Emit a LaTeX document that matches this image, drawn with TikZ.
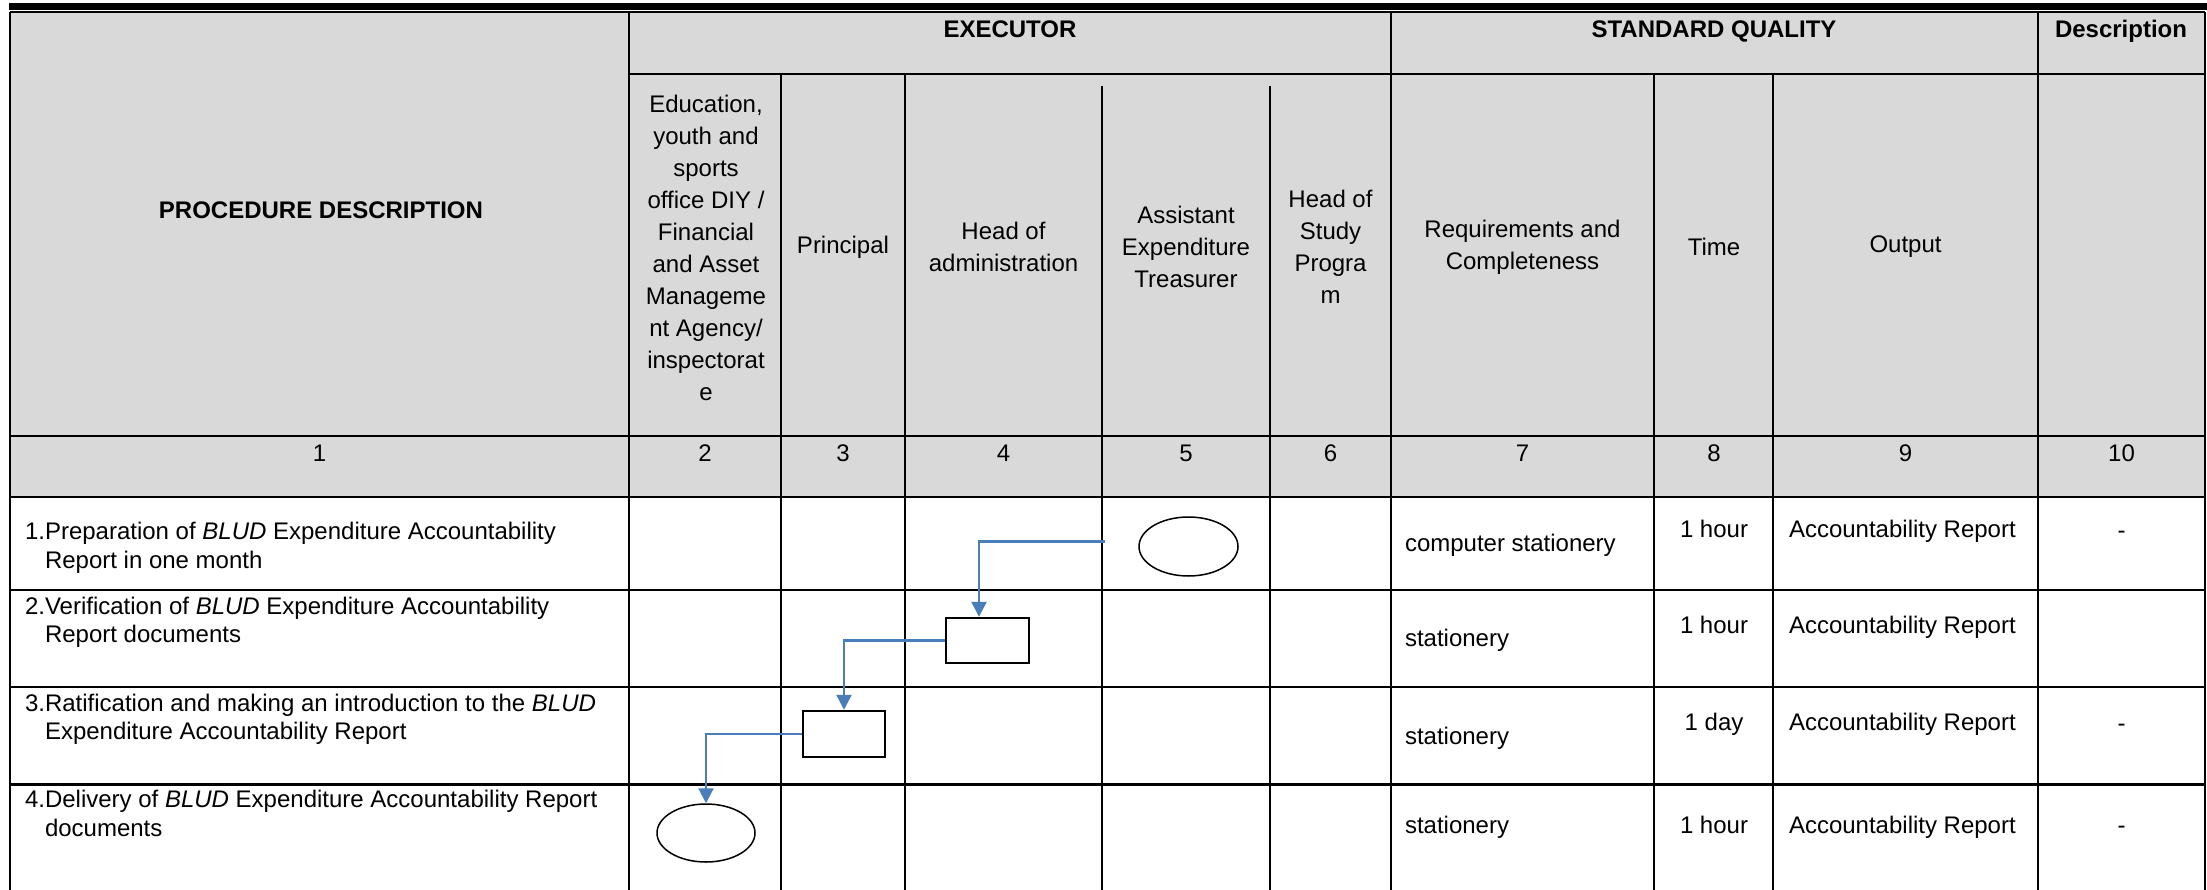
\documentclass[tikz,border=0pt]{standalone}
\usepackage{fontspec}
\setmainfont{Liberation Sans}
\usetikzlibrary{arrows.meta,shapes.geometric}
\definecolor{hdrgray}{RGB}{217,217,217}
\definecolor{flowblue}{RGB}{74,126,187}
\begin{document}
\begin{tikzpicture}[x=1pt,y=-1pt,
  gridline/.style={line width=1.4pt,black},
  thickline/.style={line width=3pt,black},
  txt/.style={font=\fontsize{24}{29}\selectfont,inner sep=0pt,outer sep=0pt},
  hdr/.style={font=\fontsize{24}{32}\selectfont,inner sep=0pt,align=center},
  bold/.style={font=\fontsize{24}{29}\selectfont\bfseries,inner sep=0pt},
  procbox/.style={draw,line width=2.4pt,rectangle,minimum width=83pt,minimum height=45pt,inner sep=0pt},
  termoval/.style={draw,line width=1.5pt,ellipse,minimum width=98pt,minimum height=58pt,inner sep=0pt},
  flowline/.style={draw=flowblue,line width=2.2pt,-{Triangle[width=15pt,length=15pt]}}]
\useasboundingbox (0,0) rectangle (2207,890);
% background and bars
\fill[hdrgray] (10,12.5) rectangle (2205,497);
\fill[black] (9,3) rectangle (2207,10);
\draw[line width=2pt] (10,12.5) -- (2205,12.5);
% horizontal grid lines
\draw[gridline] (629,74) -- (2205,74);
\draw[gridline] (10,436) -- (2205,436);
\draw[gridline] (10,497) -- (2205,497);
\draw[gridline] (10,590) -- (2205,590);
\draw[gridline] (10,687) -- (2205,687);
\draw[thickline] (10,784) -- (2205,784);
% vertical grid lines
\draw[gridline] (10,12.5) -- (10,890);
\draw[gridline] (2205,12.5) -- (2205,890);
\draw[gridline] (629,12.5) -- (629,890);
\draw[gridline] (781,74) -- (781,890);
\draw[gridline] (905,74) -- (905,890);
\draw[gridline] (1102,86) -- (1102,890);
\draw[gridline] (1270,86) -- (1270,890);
\draw[gridline] (1391,12.5) -- (1391,890);
\draw[gridline] (1654,74) -- (1654,890);
\draw[gridline] (1773,74) -- (1773,890);
\draw[gridline] (2038,12.5) -- (2038,890);
% header texts
\node[bold] (hproc) at (321,210) {PROCEDURE DESCRIPTION};
\node[bold,anchor=base] (hexec) at (1010,38) {EXECUTOR};
\node[bold,anchor=base] (hstd) at (1714,38) {STANDARD QUALITY};
\node[bold,anchor=base] (hdesc) at (2121,38) {Description};
\node[hdr] (h2) at (706,248) {Education,\\youth and\\sports\\office DIY /\\Financial\\and Asset\\Manageme\\nt Agency/\\inspectorat\\e};
\node[hdr] (h3) at (843,247) {Principal};
\node[hdr] (h4) at (1003.5,247) {Head of\\administration};
\node[hdr] (h5) at (1186,247) {Assistant\\Expenditure\\Treasurer};
\node[hdr] (h6) at (1330.5,247) {Head of\\Study\\Progra\\m};
\node[hdr] (h7) at (1522.5,247) {Requirements and\\Completeness};
\node[hdr] (h8) at (1714,247) {Time};
\node[hdr] (h9) at (1905.5,247) {Output};
% number row
\foreach \nm/\xx in {1/319.5,2/705,3/843,4/1003.5,5/1186,6/1330.5,7/1522.5,8/1714,9/1905.5,10/2121.5}
  \node[txt,anchor=base] (n\nm) at (\xx,461) {\nm};
% row 1
\node[txt,anchor=base west] (r1a) at (25,539.5) {1.Preparation of \textit{BLUD} Expenditure Accountability};
\node[txt,anchor=base west] (r1b) at (45,568.5) {Report in one month};
\node[txt,anchor=base west] (r1req) at (1405,551.5) {computer stationery};
\node[txt,anchor=base] (r1time) at (1714,537.5) {1 hour};
\node[txt,anchor=base west] (r1out) at (1789,537.5) {Accountability Report};
\node[txt,anchor=base] (r1desc) at (2121.5,538) {-};
% row 2
\node[txt,anchor=base west] (r2a) at (25,614.5) {2.Verification of \textit{BLUD} Expenditure Accountability};
\node[txt,anchor=base west] (r2b) at (45,642.5) {Report documents};
\node[txt,anchor=base west] (r2req) at (1405,646.5) {stationery};
\node[txt,anchor=base] (r2time) at (1714,633.5) {1 hour};
\node[txt,anchor=base west] (r2out) at (1789,633.5) {Accountability Report};
% row 3
\node[txt,anchor=base west] (r3a) at (25,711.5) {3.Ratification and making an introduction to the \textit{BLUD}};
\node[txt,anchor=base west] (r3b) at (45,739.5) {Expenditure Accountability Report};
\node[txt,anchor=base west] (r3req) at (1405,744.5) {stationery};
\node[txt,anchor=base] (r3time) at (1714,730.5) {1 day};
\node[txt,anchor=base west] (r3out) at (1789,730.5) {Accountability Report};
\node[txt,anchor=base] (r3desc) at (2121.5,731) {-};
% row 4
\node[txt,anchor=base west] (r4a) at (25,807.5) {4.Delivery of \textit{BLUD} Expenditure Accountability Report};
\node[txt,anchor=base west] (r4b) at (45,836.5) {documents};
\node[txt,anchor=base west] (r4req) at (1405,833.5) {stationery};
\node[txt,anchor=base] (r4time) at (1714,833.5) {1 hour};
\node[txt,anchor=base west] (r4out) at (1789,833.5) {Accountability Report};
\node[txt,anchor=base] (r4desc) at (2121.5,833.5) {-};
% flow shapes
\node[termoval,minimum width=99pt,minimum height=59pt] (e1) at (1188.5,546.5) {};
\node[procbox] (boxA) at (987.5,640.5) {};
\node[procbox,minimum width=82pt,minimum height=46pt] (boxB) at (844,734) {};
\node[termoval] (e2) at (706,833) {};
% connectors
\draw[flowline,shorten <=33pt] ([yshift=5pt]e1.west) -| ([xshift=-8.5pt]boxA.north);
\draw[flowline] (boxA.west) -| (boxB.north);
\draw[flowline] (boxB.west) -| (e2.north);
\end{tikzpicture}
\end{document}
